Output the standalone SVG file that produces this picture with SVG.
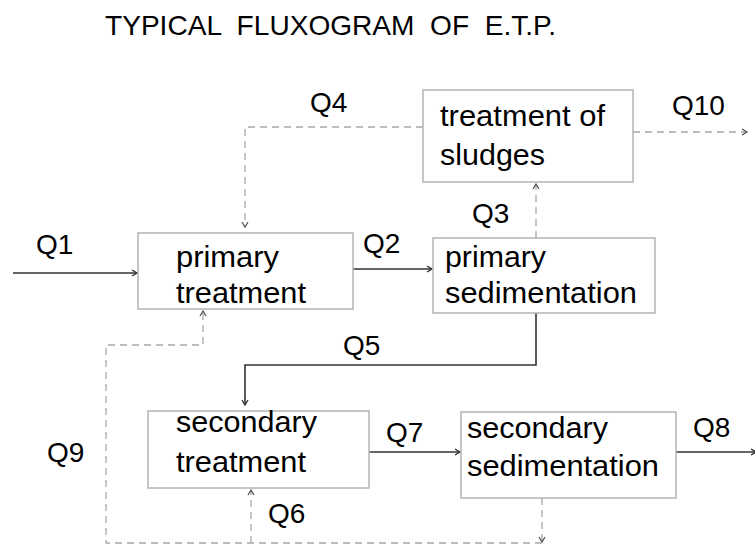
<svg xmlns="http://www.w3.org/2000/svg" width="755" height="546" viewBox="0 0 755 546">
<style>
text{font-family:"Liberation Sans",Arial,sans-serif;fill:#000;}
.t{font-size:28px;}
.n{font-size:30px;}
.box{fill:#fff;stroke:#b4b4b4;stroke-width:1.5;}
.s{fill:none;stroke:#333;stroke-width:1.6;}
.d{fill:none;stroke:#a8a8a8;stroke-width:1.3;stroke-dasharray:7 5;}
</style>
<defs>
<marker id="ah" markerWidth="10" markerHeight="10" refX="8" refY="5" orient="auto" markerUnits="userSpaceOnUse">
<polyline points="3,2 8,5 3,8" fill="none" stroke="#333" stroke-width="1.4"/>
</marker>
<marker id="ahd" markerWidth="10" markerHeight="10" refX="8" refY="5" orient="auto" markerUnits="userSpaceOnUse">
<polyline points="3,2 8,5 3,8" fill="none" stroke="#555" stroke-width="1.3"/>
</marker>
</defs>
<rect width="755" height="546" fill="#fff"/>
<text class="t" x="105" y="35" xml:space="preserve" textLength="451" lengthAdjust="spacingAndGlyphs">TYPICAL  FLUXOGRAM  OF  E.T.P.</text>

<g id="connectors">
<line class="s" x1="13" y1="273" x2="137" y2="273" marker-end="url(#ah)"/>
<line class="s" x1="353" y1="269" x2="432" y2="269" marker-end="url(#ah)"/>
<polyline class="s" points="536,313 536,365 245,365 245,405" marker-end="url(#ah)"/>
<line class="s" x1="369" y1="452" x2="460" y2="452" marker-end="url(#ah)"/>
<line class="s" x1="676" y1="452" x2="756" y2="452" marker-end="url(#ah)"/>
<line class="d" x1="536" y1="238" x2="536" y2="184" marker-end="url(#ahd)"/>
<polyline class="d" points="423,127 245,127 245,227" marker-end="url(#ahd)"/>
<line class="d" x1="633" y1="132" x2="747" y2="132" marker-end="url(#ahd)"/>
<line class="d" x1="542" y1="498" x2="542" y2="542" marker-end="url(#ahd)"/>
<polyline class="d" points="542,543 106,543 106,345 203,345 203,311" marker-end="url(#ahd)"/>
<line class="d" x1="251" y1="543" x2="251" y2="490" marker-end="url(#ahd)"/>
</g>

<g id="labels">
<text class="t" x="36" y="254">Q1</text>
<text class="t" x="363" y="253">Q2</text>
<text class="t" x="472" y="223">Q3</text>
<text class="t" x="310" y="112">Q4</text>
<text class="t" x="343" y="355">Q5</text>
<text class="t" x="268" y="523">Q6</text>
<text class="t" x="386" y="442">Q7</text>
<text class="t" x="693" y="437">Q8</text>
<text class="t" x="47" y="462">Q9</text>
<text class="t" x="672" y="115">Q10</text>
</g>

<g id="primary-treatment">
<rect class="box" x="138" y="233" width="215" height="76"/>
<text class="n" x="176" y="267" textLength="103" lengthAdjust="spacingAndGlyphs">primary</text>
<text class="n" x="176" y="303" textLength="130" lengthAdjust="spacingAndGlyphs">treatment</text>
</g>
<g id="primary-sedimentation">
<rect class="box" x="433" y="238" width="222" height="75"/>
<text class="n" x="445" y="267" textLength="101" lengthAdjust="spacingAndGlyphs">primary</text>
<text class="n" x="445" y="303" textLength="192" lengthAdjust="spacingAndGlyphs">sedimentation</text>
</g>
<g id="treatment-of-sludges">
<rect class="box" x="423" y="90" width="210" height="92"/>
<text class="n" x="440" y="126" textLength="165" lengthAdjust="spacingAndGlyphs">treatment of</text>
<text class="n" x="440" y="165" textLength="105" lengthAdjust="spacingAndGlyphs">sludges</text>
</g>
<g id="secondary-treatment">
<rect class="box" x="148" y="411" width="221" height="77"/>
<text class="n" x="176" y="432" textLength="141" lengthAdjust="spacingAndGlyphs">secondary</text>
<text class="n" x="176" y="472" textLength="130" lengthAdjust="spacingAndGlyphs">treatment</text>
</g>
<g id="secondary-sedimentation">
<rect class="box" x="461" y="412" width="215" height="86"/>
<text class="n" x="467" y="438" textLength="141" lengthAdjust="spacingAndGlyphs">secondary</text>
<text class="n" x="467" y="476" textLength="192" lengthAdjust="spacingAndGlyphs">sedimentation</text>
</g>
</svg>
